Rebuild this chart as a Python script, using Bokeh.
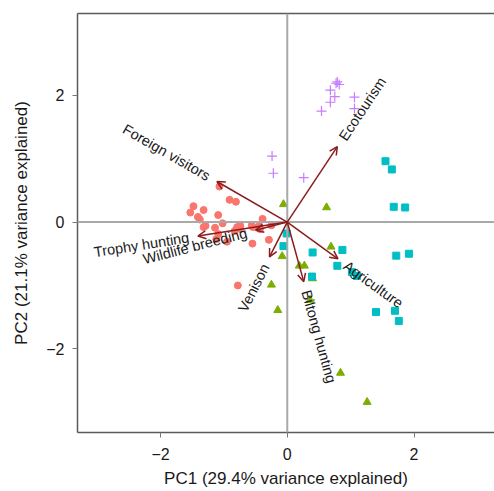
import math
from bokeh.plotting import figure
from bokeh.models import (FixedTicker, LinearAxis, Span, Arrow, OpenHead,
                          ColumnDataSource)
from bokeh.core.properties import value
from bokeh.embed import file_html
from bokeh.resources import INLINE

# ---- data ----
red_x = [-1.07, -0.91, -0.81, -1.48, -1.32, -1.53, -1.41, -1.38, -1.09, -0.39,
         -1.29, -1.32, -1.14, -1.02, -0.79, -0.74, -0.83, -0.74, -0.56, -0.54,
         -0.43, -0.44, -0.25, -1.09, -0.95, -1.12, -0.55, -0.29, -0.78]
red_y = [0.56, 0.35, 0.32, 0.25, 0.19, 0.15, 0.08, 0.04, 0.11, 0.05,
         -0.06, -0.08, -0.09, -0.02, -0.08, -0.06, -0.14, -0.11, -0.05, -0.08,
         -0.11, -0.06, -0.05, -0.19, -0.31, -0.27, -0.34, -0.28, -1.00]

green_x = [-0.06, 0.62, 0.69, -0.08, 0.19, 0.27, 0.40, 0.36, -0.25, -0.15, 0.84, 1.26]
green_y = [0.28, 0.23, -0.39, -0.54, -0.69, -0.69, -0.89, -1.23, -0.99, -1.39, -2.38, -2.84]

cyan_x = [1.55, 1.65, 1.68, 1.86, -0.01, -0.06, 0.87, 0.40, 1.72, 1.92,
          0.79, 1.02, 1.10, 0.39, 1.40, 1.70, 1.76]
cyan_y = [0.96, 0.83, 0.24, 0.23, -0.18, -0.38, -0.44, -0.48, -0.53, -0.50,
          -0.69, -0.79, -0.85, -0.86, -1.42, -1.40, -1.56]

purple_x = [0.79, 0.82, 0.77, 0.68, 1.06, 0.75, 0.68, 1.06, 0.54, -0.24, -0.22, 0.26]
purple_y = [2.21, 2.17, 2.19, 2.08, 1.97, 1.98, 1.89, 1.79, 1.75, 1.04, 0.77, 0.70]

var_names = ["Foreign visitors", "Ecotourism", "Trophy hunting", "Wildlife breeding",
             "Venison", "Biltong hunting", "Agriculture"]
var_x = [-1.11, 0.79, -1.41, -0.50, -0.28, 0.26, 0.80]
var_y = [0.64, 1.19, -0.22, -0.13, -0.55, -0.94, -0.58]

tick_values = [-2, 0, 2]
tick_labels = ["\u22122", "0", "2"]

x_title = "PC1 (29.4% variance explained)"
y_title = "PC2 (21.1% variance explained)"

# ---- figure ----
FONT = "Liberation Sans"
p = figure(width=494, height=491, x_range=(-3.31, 3.27), y_range=(-3.32, 3.29),
           output_backend="svg", toolbar_location=None,
           min_border_left=77, min_border_right=0, min_border_top=13,
           min_border_bottom=59, x_axis_location=None, y_axis_location=None)
p.outline_line_color = None
p.xgrid.visible = False
p.ygrid.visible = False
p.background_fill_color = "white"
p.border_fill_color = "white"

overrides = {v: l for v, l in zip(tick_values, tick_labels)}

def style_axis(ax):
    ax.axis_line_color = "#5a5a5a"
    ax.axis_line_width = 1.5
    ax.major_tick_line_color = "#777777"
    ax.major_tick_line_width = 1
    ax.major_tick_in = 0
    ax.major_tick_out = 5
    ax.minor_tick_line_color = None
    ax.major_label_text_font = FONT
    ax.major_label_text_font_size = "16px"
    ax.major_label_text_color = "#1a1a1a"
    ax.axis_label_text_font = FONT
    ax.axis_label_text_font_size = "17px"
    ax.axis_label_text_font_style = "normal"
    ax.axis_label_text_color = "#1a1a1a"

xaxis = LinearAxis(ticker=FixedTicker(ticks=tick_values), axis_label=x_title,
                   major_label_overrides=overrides)
style_axis(xaxis)
xaxis.major_label_standoff = 10
xaxis.axis_label_standoff = 6
p.add_layout(xaxis, "below")

yaxis = LinearAxis(ticker=FixedTicker(ticks=tick_values), axis_label=y_title,
                   major_label_overrides=overrides)
style_axis(yaxis)
yaxis.major_label_standoff = 8
yaxis.axis_label_standoff = 12
yaxis.major_label_orientation = "horizontal"
p.add_layout(yaxis, "left")

top = LinearAxis(ticker=FixedTicker(ticks=[]))
top.axis_line_color = "#5a5a5a"
top.axis_line_width = 1.5
top.major_tick_out = 0
top.major_tick_in = 0
top.minor_tick_line_color = None
top.major_label_text_font_size = "0px"
p.add_layout(top, "above")

# reference lines
p.add_layout(Span(location=0, dimension="width", line_color="#a9a9a9", line_width=2))
p.add_layout(Span(location=0, dimension="height", line_color="#a9a9a9", line_width=2))

# points
p.scatter(red_x, red_y, marker="circle", size=7, fill_color="#F8766D", line_color="#F8766D")
p.scatter(green_x, green_y, marker="triangle", size=8, fill_color="#7CAE00", line_color="#7CAE00")
p.scatter(cyan_x, cyan_y, marker="square", size=7, fill_color="#00BFC4", line_color="#00BFC4")
p.scatter(purple_x, purple_y, marker="cross", size=10, line_color="#C77CFF", line_width=1.2)

# arrows
ARROW_COL = "#8B1C1C"
for vx, vy in zip(var_x, var_y):
    p.add_layout(Arrow(x_start=0, y_start=0, x_end=vx, y_end=vy,
                       line_color=ARROW_COL, line_width=1.5,
                       end=OpenHead(size=8, line_color=ARROW_COL, line_width=1.5)))

# variable labels (placed just beyond each arrow tip, rotated along it)
gap = 9 / 63.5
lx, ly, ang, align = [], [], [], []
for vx, vy in zip(var_x, var_y):
    r = math.hypot(vx, vy)
    lx.append(vx + gap * vx / r)
    ly.append(vy + gap * vy / r)
    ang.append(math.atan(vy / vx))
    align.append("left" if vx > 0 else "right")

src = ColumnDataSource(dict(x=lx, y=ly, text=var_names, angle=ang, align=align))
p.text(x="x", y="y", text="text", angle="angle", text_align="align",
       text_baseline="middle", source=src, text_font=value(FONT),
       text_font_size="14.5px", text_color="#1a1a1a")

open("out.html", "w").write(file_html(p, INLINE))
